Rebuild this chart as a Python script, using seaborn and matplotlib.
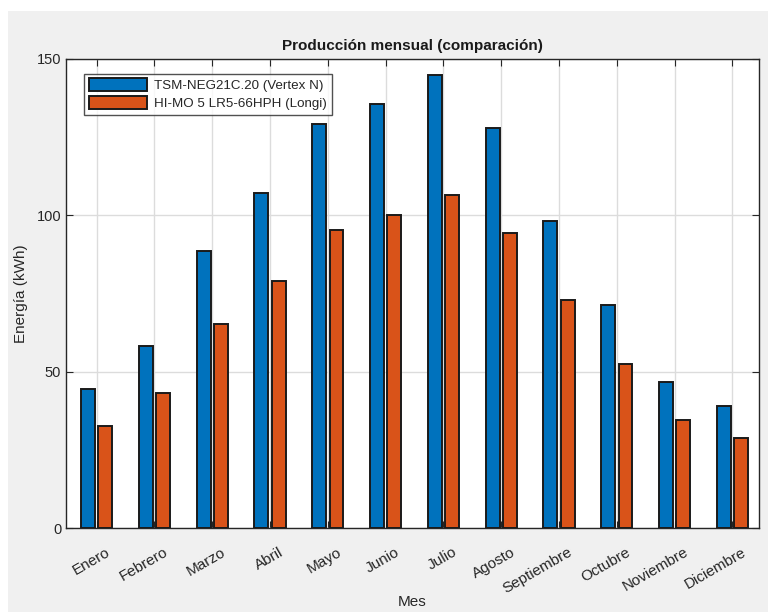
import matplotlib as mpl
mpl.use('Agg')

import matplotlib.pyplot as plt
import matplotlib.transforms as mtransforms
import pandas as pd
import seaborn as sns
from matplotlib.patches import Rectangle

meses = ['Enero', 'Febrero', 'Marzo', 'Abril', 'Mayo', 'Junio', 'Julio',
         'Agosto', 'Septiembre', 'Octubre', 'Noviembre', 'Diciembre']
vertex = [44.5, 58.3, 88.6, 107.0, 129.0, 135.7, 144.7, 127.9, 98.2, 71.2, 46.7, 39.1]
longi = [32.8, 43.2, 65.1, 79.1, 95.2, 100.1, 106.4, 94.3, 72.8, 52.6, 34.7, 28.8]
series = ['TSM-NEG21C.20 (Vertex N)', 'HI-MO 5 LR5-66HPH (Longi)']

dset = pd.DataFrame({
    'Mes': meses * 2,
    'Energia': vertex + longi,
    'Panel': [series[0]] * len(meses) + [series[1]] * len(meses),
})

sns.set_style('whitegrid')
plt.rcParams['font.family'] = ['Liberation Sans', 'DejaVu Sans']
plt.rcParams['font.size'] = 10

fig = plt.figure(figsize=(7.68, 6.12), dpi=100, facecolor='white')
# gray figure area like the MATLAB window, small white border top/left
fig.patches.append(Rectangle((8 / 768, 0), 1, 1 - 11 / 612, transform=fig.transFigure,
                             facecolor='#f0f0f0', edgecolor='none', zorder=-10))
ax = fig.add_axes([0.086, 0.137, 0.902, 0.767])
ax.set_facecolor('white')

sns.barplot(data=dset, x='Mes', y='Energia', hue='Panel', order=meses,
            hue_order=series, palette=['#0072BD', '#D95319'],
            width=0.6, gap=0.2, edgecolor='#1a1a1a', linewidth=1.4,
            saturation=1, ax=ax, zorder=3)

ax.set_xlim(-0.53, 11.455)
ax.set_ylim(0, 150)
ax.set_yticks([0, 50, 100, 150])
ax.grid(True, color='#dcdcdc', linewidth=1.0, zorder=0)
ax.set_axisbelow(True)
for side in ['left', 'bottom', 'right', 'top']:
    ax.spines[side].set_visible(True)
    ax.spines[side].set_color('#262626')
    ax.spines[side].set_linewidth(1.0)
ax.tick_params(axis='both', which='major', direction='in', length=5,
               color='#262626', labelcolor='#262626', labelsize=10.5,
               top=True, right=True, bottom=True, left=True)
ax.tick_params(axis='x', labelsize=11, pad=12)
shift = mtransforms.ScaledTranslation(9 / 100, 0, fig.dpi_scale_trans)
for lbl in ax.get_xticklabels():
    lbl.set_rotation(30)
    lbl.set_ha('right')
    lbl.set_va('top')
    lbl.set_rotation_mode('anchor')
    lbl.set_transform(lbl.get_transform() + shift)

ax.set_title('Producción mensual (comparación)', fontsize=11, fontweight='bold',
             color='#1a1a1a', pad=6)
ax.set_xlabel('Mes', fontsize=11, color='#262626')
ax.xaxis.set_label_coords(0.5, -0.143)
ax.set_ylabel('Energía (kWh)', fontsize=11, color='#262626', labelpad=6)

leg = ax.legend(loc='upper left', bbox_to_anchor=(0.026, 0.968), fontsize=9.6,
                frameon=True, fancybox=False, edgecolor='#262626',
                handlelength=4.4, handleheight=1.1, handletextpad=0.5,
                borderpad=0.35, labelspacing=0.3, borderaxespad=0)
leg.get_frame().set_linewidth(1.0)

fig.savefig('out.png', dpi=100, facecolor=fig.get_facecolor())
